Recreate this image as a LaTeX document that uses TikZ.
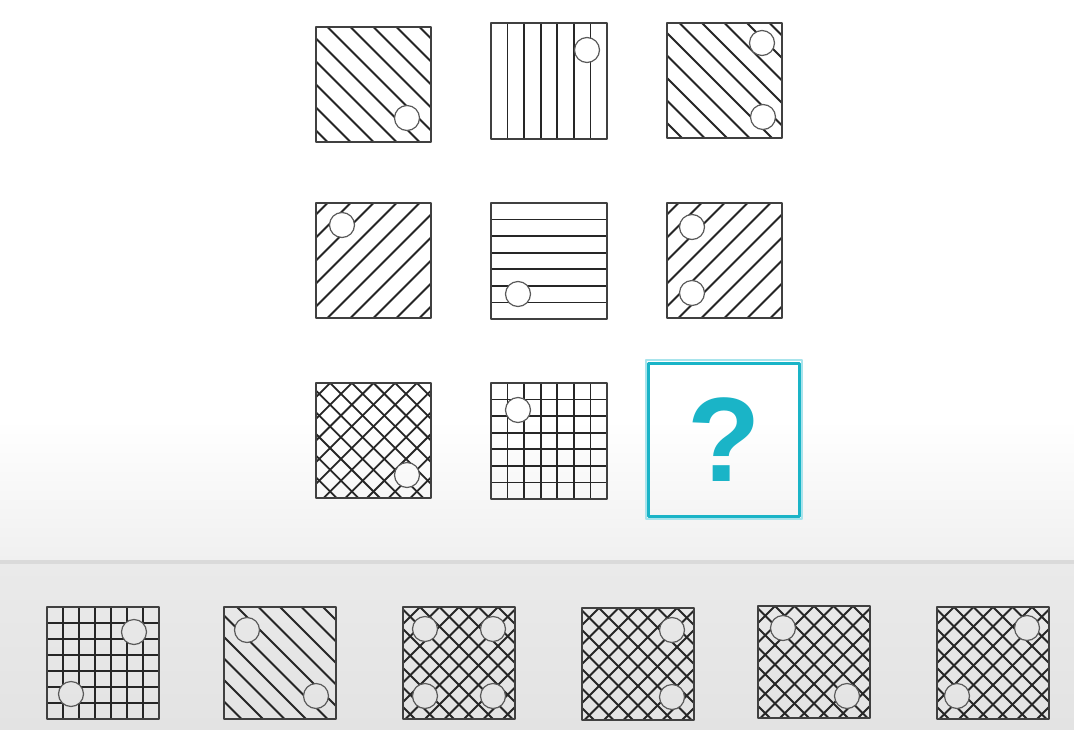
\documentclass[tikz,border=0pt]{standalone}
\usepackage{fontspec}
\setmainfont{Liberation Sans}
\definecolor{teal1}{HTML}{1AB4C7}
\definecolor{tealglow}{HTML}{A8E4EC}
\definecolor{frameC}{HTML}{404040}
\definecolor{hatchC}{HTML}{262626}
\definecolor{ringC}{HTML}{5A5A5A}
\definecolor{bgA}{HTML}{F0F0F0}
\definecolor{bgSep}{HTML}{DADADA}
\definecolor{bgB}{HTML}{EAEAEA}
\definecolor{bgC}{HTML}{E3E3E3}
\tikzset{
  hatch/.style={draw=hatchC, line width=1.8pt},
  frame/.style={draw=frameC, line width=2.4pt},
  ring/.style={draw=ringC, line width=1.2pt},
}
% #1 x0, #2 y0, #3 size, #4 spacing
\newcommand\hatchD[4]{\foreach \k in {-10,...,10}{\draw[hatch] ({#1+#3/2+#4*\k-10},{#2-10}) -- ++({#3+20},{#3+20});}}
\newcommand\hatchA[4]{\foreach \k in {-10,...,10}{\draw[hatch] ({#1+#3/2+#4*\k+10},{#2-10}) -- ++({-#3-20},{#3+20});}}
\newcommand\hatchV[4]{\foreach \k in {1,...,6}{\draw[hatch] ({#1+#3*\k/7},#2) -- ++(0,#3);}}
\newcommand\hatchH[4]{\foreach \k in {1,...,6}{\draw[hatch] (#1,{#2+#3*\k/7}) -- ++(#3,0);}}
% x0, y0, size, spacing, patterns, circles
\newcommand\cellbox[6]{%
  \begin{scope}[even odd rule]
    \clip (#1,#2) rectangle ++(#3,#3)
      foreach \cx/\cy in {#6}{ (\cx,\cy) circle (12.5)};
    \foreach \p in {#5}{\csname hatch\p\endcsname{#1}{#2}{#3}{#4}}
  \end{scope}
  \foreach \cx/\cy in {#6}{\draw[ring] (\cx,\cy) circle (12.5);}
  \draw[frame] (#1,#2) rectangle ++(#3,#3);
}
\begin{document}
\begin{tikzpicture}[x=1pt,y=-1pt,line join=round]
\useasboundingbox (0,0) rectangle (1074,729);
% background
\fill[white] (0,0) rectangle (1074,420);
\shade[top color=white,bottom color=bgA] (0,420) rectangle (1074,560);
\fill[bgSep] (0,560) rectangle (1074,564);
\shade[top color=bgB,bottom color=bgC] (0,564) rectangle (1074,729);
% matrix
\cellbox{316}{27}{115}{23}{D}{407/118}
\cellbox{491}{23}{116}{23}{V}{587/50}
\cellbox{667}{23}{115}{22.5}{D}{762/43,763/117}
\cellbox{316}{203}{115}{23}{A}{342/225}
\cellbox{491}{203}{116}{23}{H}{518/294}
\cellbox{667}{203}{115}{23}{A}{692/227,692/293}
\cellbox{316}{383}{115}{21.7}{D,A}{407/475}
\cellbox{491}{383}{116}{23}{V,H}{518/410}
% question box
\draw[tealglow,line width=1.5pt] (646,360) rectangle (802,519);
\node[draw=teal1,line width=3pt,minimum width=151pt,minimum height=153pt,inner sep=0pt,
  text=teal1,font=\bfseries\fontsize{120}{120}\selectfont] (q) at (724,439.5) {?};
% options
\cellbox{47}{607}{112}{20}{V,H}{134/632,71/694}
\cellbox{224}{607}{112}{21.5}{D}{247/630,316/696}
\cellbox{403}{607}{112}{19.5}{D,A}{425/629,493/629,425/696,493/696}
\cellbox{582}{608}{112}{19.5}{D,A}{672/630,672/697}
\cellbox{758}{606}{112}{19.5}{D,A}{783/628,847/696}
\cellbox{937}{607}{112}{19.5}{D,A}{1027/628,957/696}
\end{tikzpicture}
\end{document}
